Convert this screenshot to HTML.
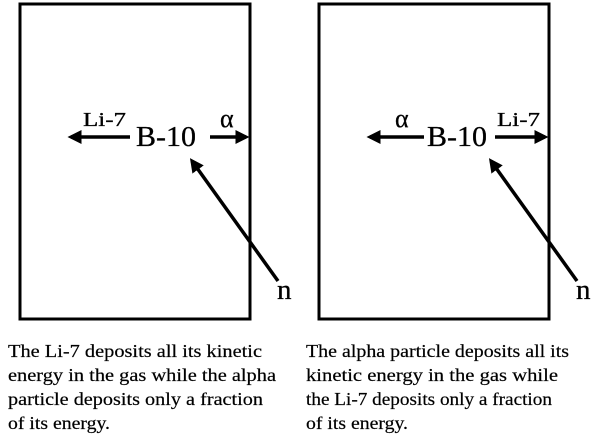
<!DOCTYPE html>
<html><head><style>body{margin:0;background:#fff}svg{display:block}text{font-family:"Liberation Serif","LiberationSerif","Times New Roman",Times,Tinos,"Nimbus Roman",serif}</style></head>
<body>
<svg width="605" height="441" xmlns="http://www.w3.org/2000/svg">
<defs>
<marker id="a" markerWidth="4" markerHeight="4" refX="3" refY="2" orient="auto" markerUnits="strokeWidth">
<path d="M0,0 L4,2 L0,4 z" fill="#000"/></marker>
</defs>
<g fill="none" stroke="#000" stroke-width="3">
<rect x="20" y="4" width="230" height="315"/>
<rect x="319" y="4" width="230" height="315"/>
</g>
<g fill="none" stroke="#000" stroke-width="3.5">
<line x1="130" y1="137" x2="71" y2="137" marker-end="url(#a)"/>
<line x1="210" y1="137" x2="246" y2="137" marker-end="url(#a)"/>
<line x1="278" y1="281" x2="192" y2="161" marker-end="url(#a)"/>
<line x1="424" y1="137" x2="370" y2="137" marker-end="url(#a)"/>
<line x1="495" y1="137" x2="545" y2="137" marker-end="url(#a)"/>
<line x1="577" y1="281" x2="491" y2="161" marker-end="url(#a)"/>
</g>
<g fill="#000" stroke="#000" stroke-width="0.3">
<text x="136" y="146" font-size="28" textLength="60" lengthAdjust="spacingAndGlyphs">B-10</text>
<text x="83" y="126" font-size="20" textLength="43" lengthAdjust="spacingAndGlyphs">Li-7</text>
<text x="220" y="127" font-size="26">α</text>
<text x="277" y="299" font-size="29">n</text>
<text x="427" y="146" font-size="28" textLength="60" lengthAdjust="spacingAndGlyphs">B-10</text>
<text x="497" y="126" font-size="20" textLength="43" lengthAdjust="spacingAndGlyphs">Li-7</text>
<text x="395" y="127" font-size="26">α</text>
<text x="576" y="299" font-size="29">n</text>
<g font-size="18" stroke-width="0.2">
<text x="8" y="357" textLength="254" lengthAdjust="spacingAndGlyphs">The Li-7 deposits all its kinetic</text>
<text x="8" y="381" textLength="268" lengthAdjust="spacingAndGlyphs">energy in the gas while the alpha</text>
<text x="8" y="405" textLength="255" lengthAdjust="spacingAndGlyphs">particle deposits only a fraction</text>
<text x="8" y="429" textLength="102" lengthAdjust="spacingAndGlyphs">of its energy.</text>
<text x="306" y="357" textLength="263" lengthAdjust="spacingAndGlyphs">The alpha particle deposits all its</text>
<text x="306" y="381" textLength="252" lengthAdjust="spacingAndGlyphs">kinetic energy in the gas while</text>
<text x="306" y="405" textLength="246" lengthAdjust="spacingAndGlyphs">the Li-7 deposits only a fraction</text>
<text x="306" y="429" textLength="102" lengthAdjust="spacingAndGlyphs">of its energy.</text>
</g>
</g>
</svg>
</body></html>
